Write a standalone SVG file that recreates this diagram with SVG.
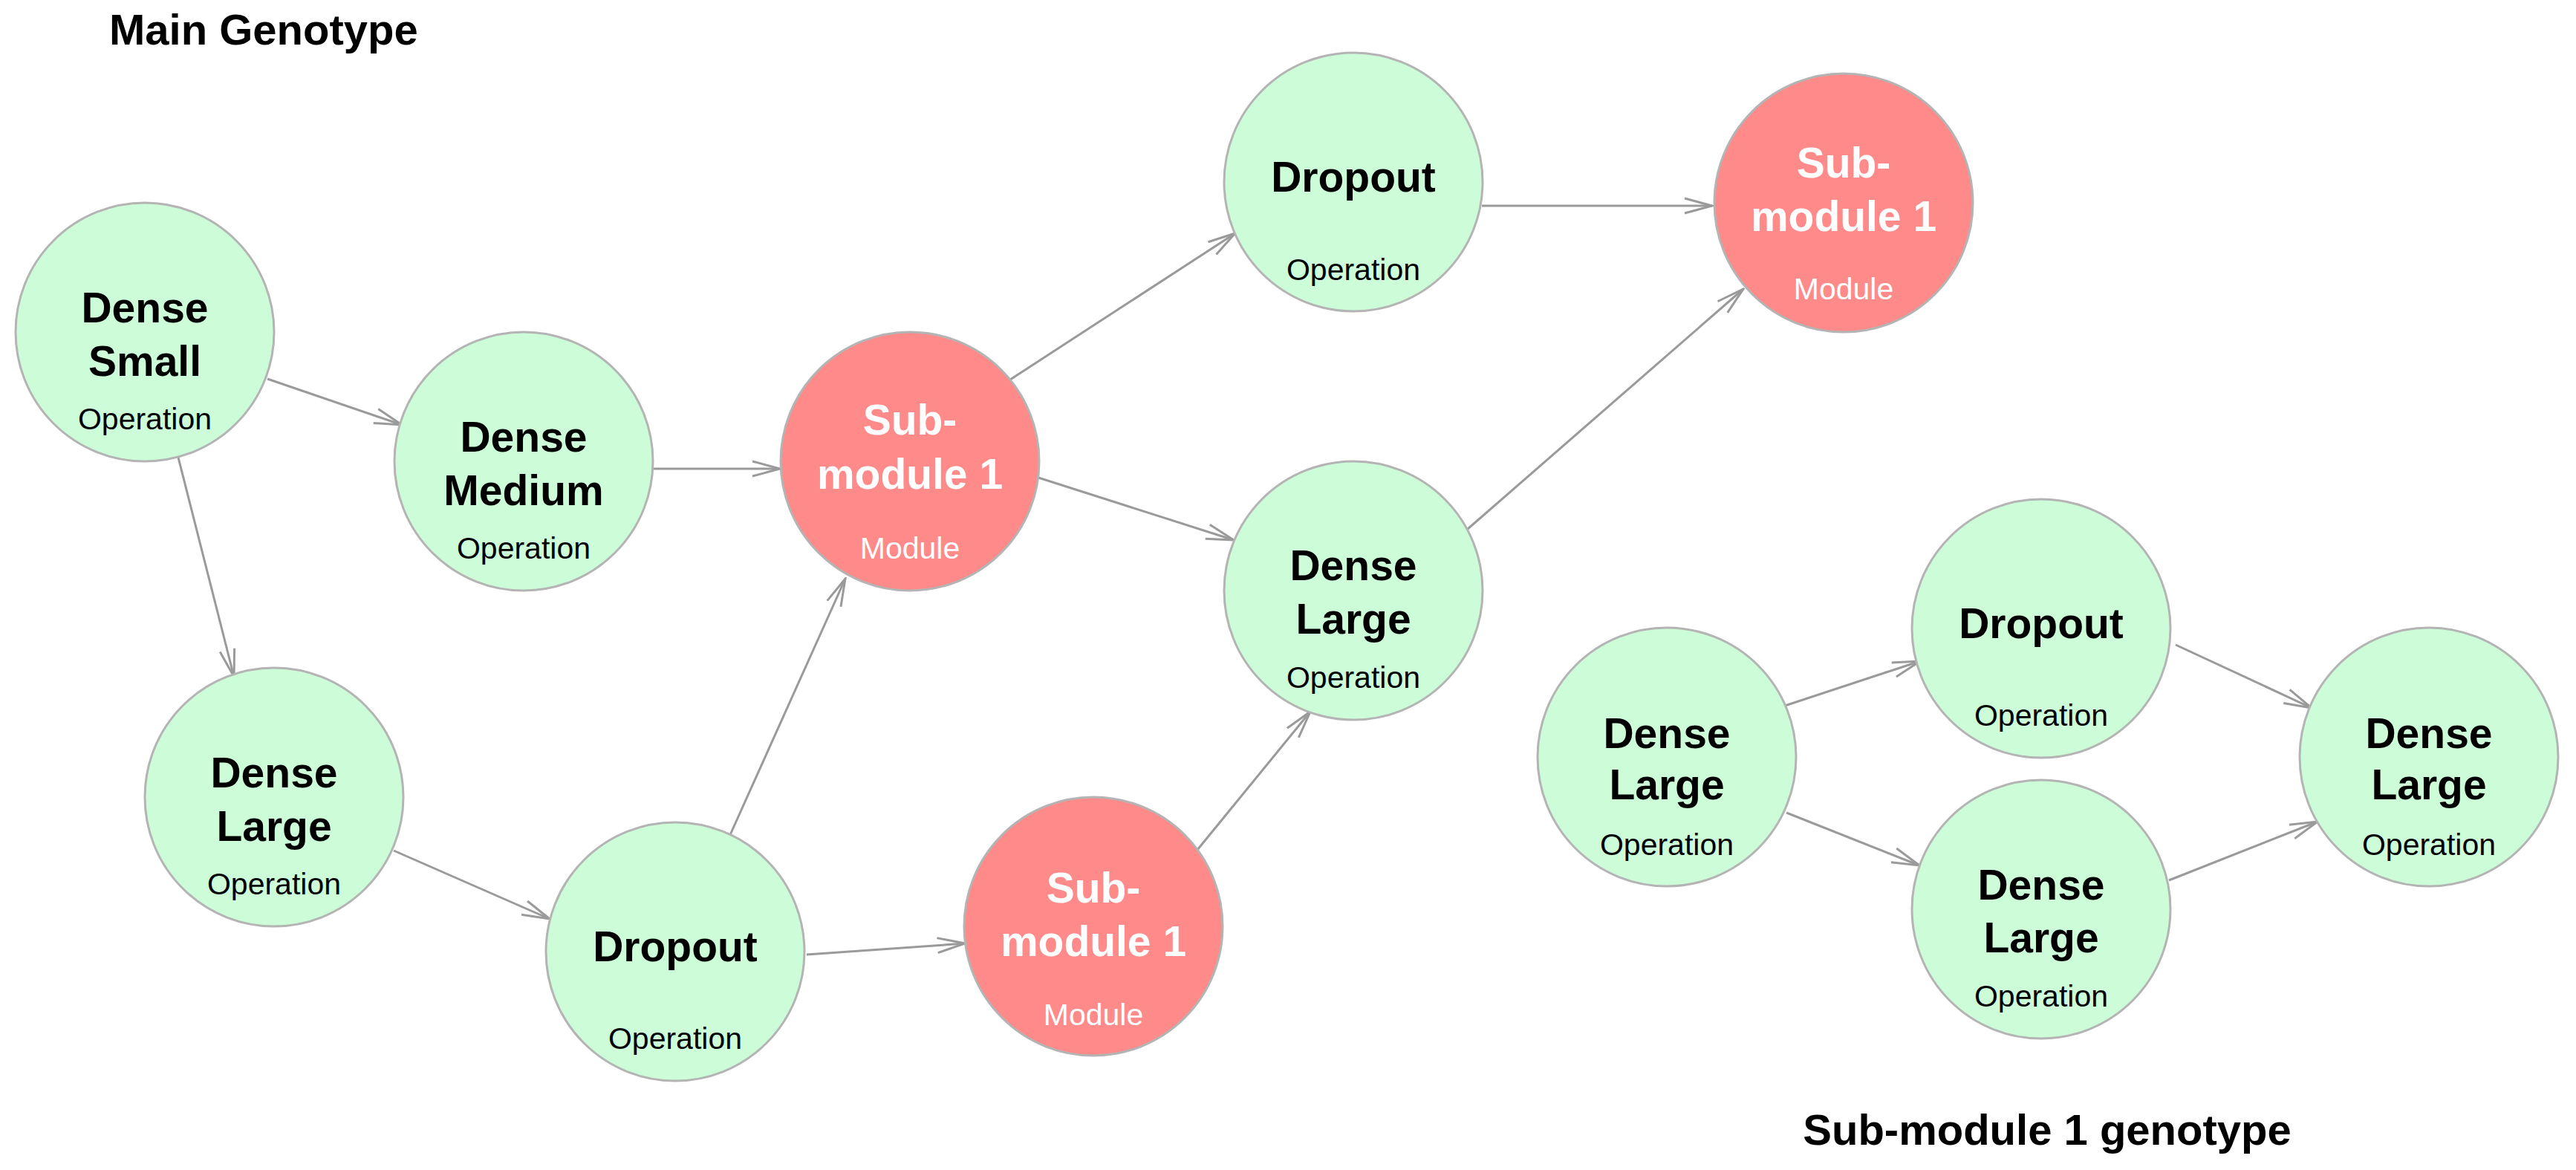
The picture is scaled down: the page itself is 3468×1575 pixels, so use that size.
<svg xmlns="http://www.w3.org/2000/svg" width="3468" height="1575" viewBox="0 0 3468 1575">
<style>
.op circle{fill:#cdfcd9;stroke:#b4b4b4;stroke-width:3}
.mod circle{fill:#fe8a8a;stroke:#b4b4b4;stroke-width:3}
text{font-family:"Liberation Sans",Arial,sans-serif;text-anchor:middle}
.t{font-size:57px;font-weight:bold}
.s{font-size:41px}
.op text{fill:#000}
.mod text{fill:#fff}
.title{font-size:58px;font-weight:bold;fill:#000}
#edges line{stroke:#9a9a9a;stroke-width:3;marker-end:url(#arr)}
</style>
<defs>
<marker id="arr" markerUnits="userSpaceOnUse" viewBox="0 0 40 24" refX="38" refY="12" markerWidth="40" markerHeight="24" orient="auto">
<path d="M1,2 L38,12 L1,22" fill="none" stroke="#9a9a9a" stroke-width="3"/>
</marker>
</defs>
<rect width="3468" height="1575" fill="#fff"/>
<text class="title" x="147" y="60" style="text-anchor:start">Main Genotype</text>
<text class="title" x="2756" y="1541">Sub-module 1 genotype</text>
<g id="edges">
<line x1="360" y1="510" x2="541" y2="572"/>
<line x1="239" y1="612" x2="315" y2="911"/>
<line x1="880" y1="631" x2="1050" y2="631"/>
<line x1="530" y1="1145" x2="740" y2="1237"/>
<line x1="982" y1="1126" x2="1138" y2="779"/>
<line x1="1086" y1="1285" x2="1299" y2="1270"/>
<line x1="1360" y1="511" x2="1663" y2="314"/>
<line x1="1398" y1="643" x2="1661" y2="727"/>
<line x1="1995" y1="277" x2="2305" y2="277"/>
<line x1="1976" y1="712" x2="2347" y2="389"/>
<line x1="1612" y1="1144" x2="1764" y2="958"/>
<line x1="2403" y1="950" x2="2585" y2="890"/>
<line x1="2405" y1="1094" x2="2584" y2="1165"/>
<line x1="2929" y1="868" x2="3112" y2="953"/>
<line x1="2920" y1="1185" x2="3120" y2="1106"/>
</g>
<g id="n-dense-small" class="op">
<circle cx="195" cy="447" r="174"/>
<text class="t" x="195" y="434">Dense</text>
<text class="t" x="195" y="506">Small</text>
<text class="s" x="195" y="578">Operation</text>
</g>
<g id="n-dense-medium" class="op">
<circle cx="705" cy="621" r="174"/>
<text class="t" x="705" y="608">Dense</text>
<text class="t" x="705" y="680">Medium</text>
<text class="s" x="705" y="752">Operation</text>
</g>
<g id="n-dense-large-1" class="op">
<circle cx="369" cy="1073" r="174"/>
<text class="t" x="369" y="1060">Dense</text>
<text class="t" x="369" y="1132">Large</text>
<text class="s" x="369" y="1204">Operation</text>
</g>
<g id="n-dropout-1" class="op">
<circle cx="909" cy="1281" r="174"/>
<text class="t" x="909" y="1294">Dropout</text>
<text class="s" x="909" y="1412">Operation</text>
</g>
<g id="n-sub-1" class="mod">
<circle cx="1225" cy="621" r="174"/>
<text class="t" x="1225" y="585">Sub-</text>
<text class="t" x="1225" y="658">module 1</text>
<text class="s" x="1225" y="752">Module</text>
</g>
<g id="n-dropout-2" class="op">
<circle cx="1822" cy="245" r="174"/>
<text class="t" x="1822" y="258">Dropout</text>
<text class="s" x="1822" y="377">Operation</text>
</g>
<g id="n-dense-large-2" class="op">
<circle cx="1822" cy="795" r="174"/>
<text class="t" x="1822" y="781">Dense</text>
<text class="t" x="1822" y="853">Large</text>
<text class="s" x="1822" y="926">Operation</text>
</g>
<g id="n-sub-2" class="mod">
<circle cx="1472" cy="1247" r="174"/>
<text class="t" x="1472" y="1215">Sub-</text>
<text class="t" x="1472" y="1287">module 1</text>
<text class="s" x="1472" y="1380">Module</text>
</g>
<g id="n-sub-3" class="mod">
<circle cx="2482" cy="273" r="174"/>
<text class="t" x="2482" y="239">Sub-</text>
<text class="t" x="2482" y="311">module 1</text>
<text class="s" x="2482" y="403">Module</text>
</g>
<g id="s-dense-large-in" class="op">
<circle cx="2244" cy="1019" r="174"/>
<text class="t" x="2244" y="1007">Dense</text>
<text class="t" x="2244" y="1076">Large</text>
<text class="s" x="2244" y="1151">Operation</text>
</g>
<g id="s-dropout" class="op">
<circle cx="2748" cy="846" r="174"/>
<text class="t" x="2748" y="859">Dropout</text>
<text class="s" x="2748" y="977">Operation</text>
</g>
<g id="s-dense-large-mid" class="op">
<circle cx="2748" cy="1224" r="174"/>
<text class="t" x="2748" y="1211">Dense</text>
<text class="t" x="2748" y="1282">Large</text>
<text class="s" x="2748" y="1355">Operation</text>
</g>
<g id="s-dense-large-out" class="op">
<circle cx="3270" cy="1019" r="174"/>
<text class="t" x="3270" y="1007">Dense</text>
<text class="t" x="3270" y="1076">Large</text>
<text class="s" x="3270" y="1151">Operation</text>
</g>
</svg>
